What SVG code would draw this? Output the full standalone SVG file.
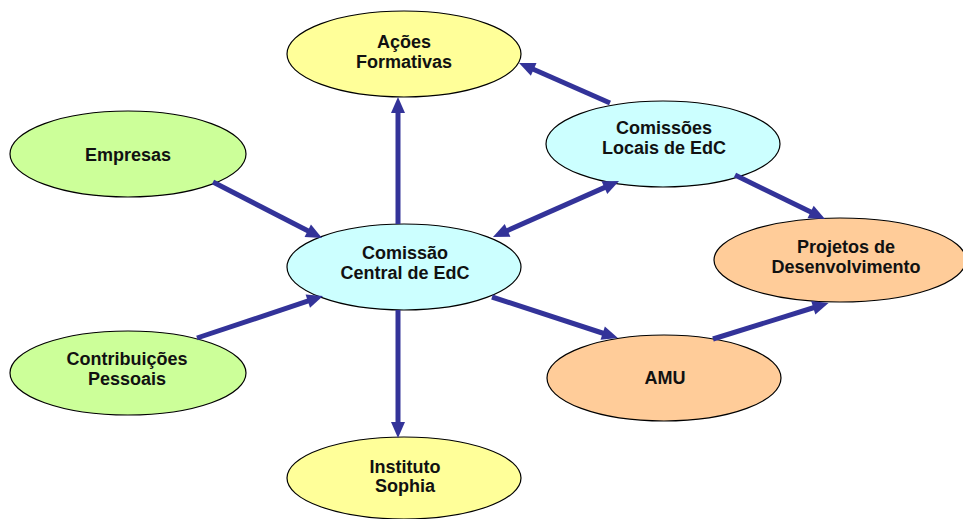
<svg xmlns="http://www.w3.org/2000/svg" width="963" height="519" viewBox="0 0 963 519">
<style>
.n{stroke:#000;stroke-width:1.2}
.y{fill:#FFFF99}.g{fill:#CCFF99}.c{fill:#CCFFFF}.o{fill:#FFCC99}
text{font-family:"Liberation Sans",Arial,sans-serif;font-weight:bold;font-size:18px;fill:#111;text-anchor:middle}
.e line{stroke:#333399;stroke-width:5;marker-end:url(#ah)}
</style>
<defs>
<marker id="ah" markerUnits="userSpaceOnUse" markerWidth="16" markerHeight="14" refX="6" refY="7" orient="auto-start-reverse" overflow="visible">
<path d="M0,0 L16,7 L0,14 z" fill="#333399"/>
</marker>
</defs>
<rect width="963" height="519" fill="#fff"/>
<g id="acoes"><ellipse class="n y" cx="404" cy="54" rx="117" ry="43"/><text x="404" y="48">Ações</text><text x="404" y="68">Formativas</text></g>
<g id="central"><ellipse class="n c" cx="404" cy="267" rx="117" ry="43"/><text x="405" y="259">Comissão</text><text x="405" y="279">Central de EdC</text></g>
<g id="locais"><ellipse class="n c" cx="663" cy="144" rx="117" ry="43"/><text x="664" y="134">Comissões</text><text x="664" y="154">Locais de EdC</text></g>
<g id="projetos"><ellipse class="n o" cx="840" cy="260" rx="126" ry="42"/><text x="846" y="253">Projetos de</text><text x="846" y="273">Desenvolvimento</text></g>
<g id="empresas"><ellipse class="n g" cx="128" cy="154" rx="118" ry="43"/><text x="128" y="161">Empresas</text></g>
<g id="contribuicoes"><ellipse class="n g" cx="128" cy="373" rx="118" ry="42"/><text x="127" y="365">Contribuições</text><text x="127" y="385">Pessoais</text></g>
<g id="amu"><ellipse class="n o" cx="664" cy="378" rx="117" ry="43"/><text x="665" y="384">AMU</text></g>
<g id="instituto"><ellipse class="n y" cx="404" cy="478" rx="117" ry="41"/><text x="405" y="473">Instituto</text><text x="405" y="492">Sophia</text></g>
<g id="connectors" class="e">
<line x1="398" y1="224" x2="398" y2="107"/>
<line x1="398" y1="310" x2="398" y2="428"/>
<line x1="213" y1="182" x2="313.1" y2="233.5"/>
<line x1="197" y1="338" x2="313.5" y2="299.2"/>
<line x1="502.1" y1="232.9" x2="609.9" y2="185.1" style="marker-start:url(#ah)"/>
<line x1="610" y1="103" x2="528.2" y2="67"/>
<line x1="735" y1="175" x2="816" y2="214.6"/>
<line x1="492" y1="297" x2="608.4" y2="335"/>
<line x1="713" y1="339" x2="819" y2="306"/>
</g>
</svg>
